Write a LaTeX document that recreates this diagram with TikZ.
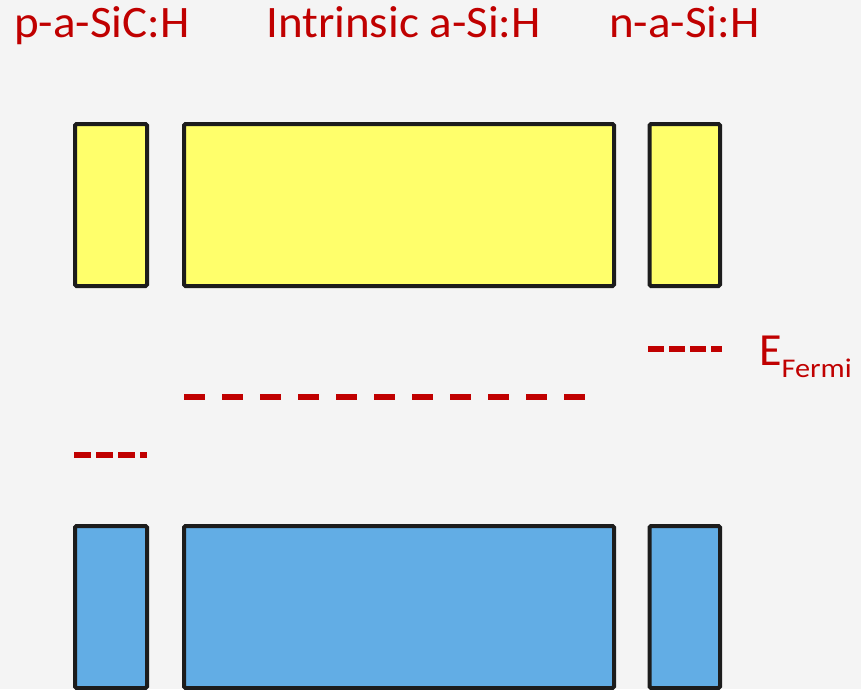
\documentclass[tikz,border=0pt]{standalone}
\usepackage{fontspec}
\setmainfont{Carlito}
\newfontfamily\widefont[FakeStretch=1.045]{Carlito}
\newfontfamily\subfont[FakeStretch=1.12]{Carlito}
\definecolor{bgcol}{HTML}{F4F4F4}
\definecolor{bandyellow}{HTML}{FFFF6B}
\definecolor{bandblue}{HTML}{62ADE5}
\definecolor{edgecol}{HTML}{1C1C1C}
\definecolor{labelred}{HTML}{C00000}
\begin{document}
\begin{tikzpicture}[x=1pt,y=-1pt,
  band/.style={draw=edgecol,line width=4pt,rounded corners=1.5pt,inner sep=0pt,outer sep=0pt,anchor=north west},
  cond/.style={band,fill=bandyellow},
  val/.style={band,fill=bandblue},
  fermi/.style={draw=labelred,line width=5.5pt},
  title/.style={text=labelred,inner sep=0pt,anchor=base west,font=\widefont\fontsize{45}{50}\selectfont}]
  \fill[bgcol] (0,0) rectangle (861,689);
  \useasboundingbox (0,0) rectangle (861,689);
  % layer titles
  \node[title] (tp) at (14,37) {p-a-SiC:H};
  \node[title] (ti) at (266,37) {Intrinsic a-Si:H};
  \node[title] (tn) at (609,37) {n-a-Si:H};
  % conduction band blocks
  \node[cond,minimum width=72pt,minimum height=162pt] (cp) at (75,124) {};
  \node[cond,minimum width=430pt,minimum height=162pt] (ci) at (184,124) {};
  \node[cond,minimum width=70.5pt,minimum height=162pt] (cn) at (649.5,124) {};
  % valence band blocks
  \node[val,minimum width=72pt,minimum height=162pt] (vp) at (75,526) {};
  \node[val,minimum width=430pt,minimum height=162pt] (vi) at (184,526) {};
  \node[val,minimum width=70.5pt,minimum height=162pt] (vn) at (649.5,526) {};
  % Fermi levels
  \coordinate (fp1) at (74,455);  \coordinate (fp2) at (147,455);
  \coordinate (fi1) at (184,397); \coordinate (fi2) at (587,397);
  \coordinate (fn1) at (648,349); \coordinate (fn2) at (722,349);
  \draw[fermi,dash pattern=on 17pt off 5pt] (fp1) -- (fp2);
  \draw[fermi,dash pattern=on 21pt off 17pt] (fi1) -- (fi2);
  \draw[fermi,dash pattern=on 16pt off 5pt] (fn1) -- (fn2);
  \node[title,font=\fontsize{46}{50}\selectfont] (ef) at (759,365)
    {E\raisebox{-12pt}{\subfont\fontsize{27}{30}\selectfont Fermi}};
\end{tikzpicture}
\end{document}
